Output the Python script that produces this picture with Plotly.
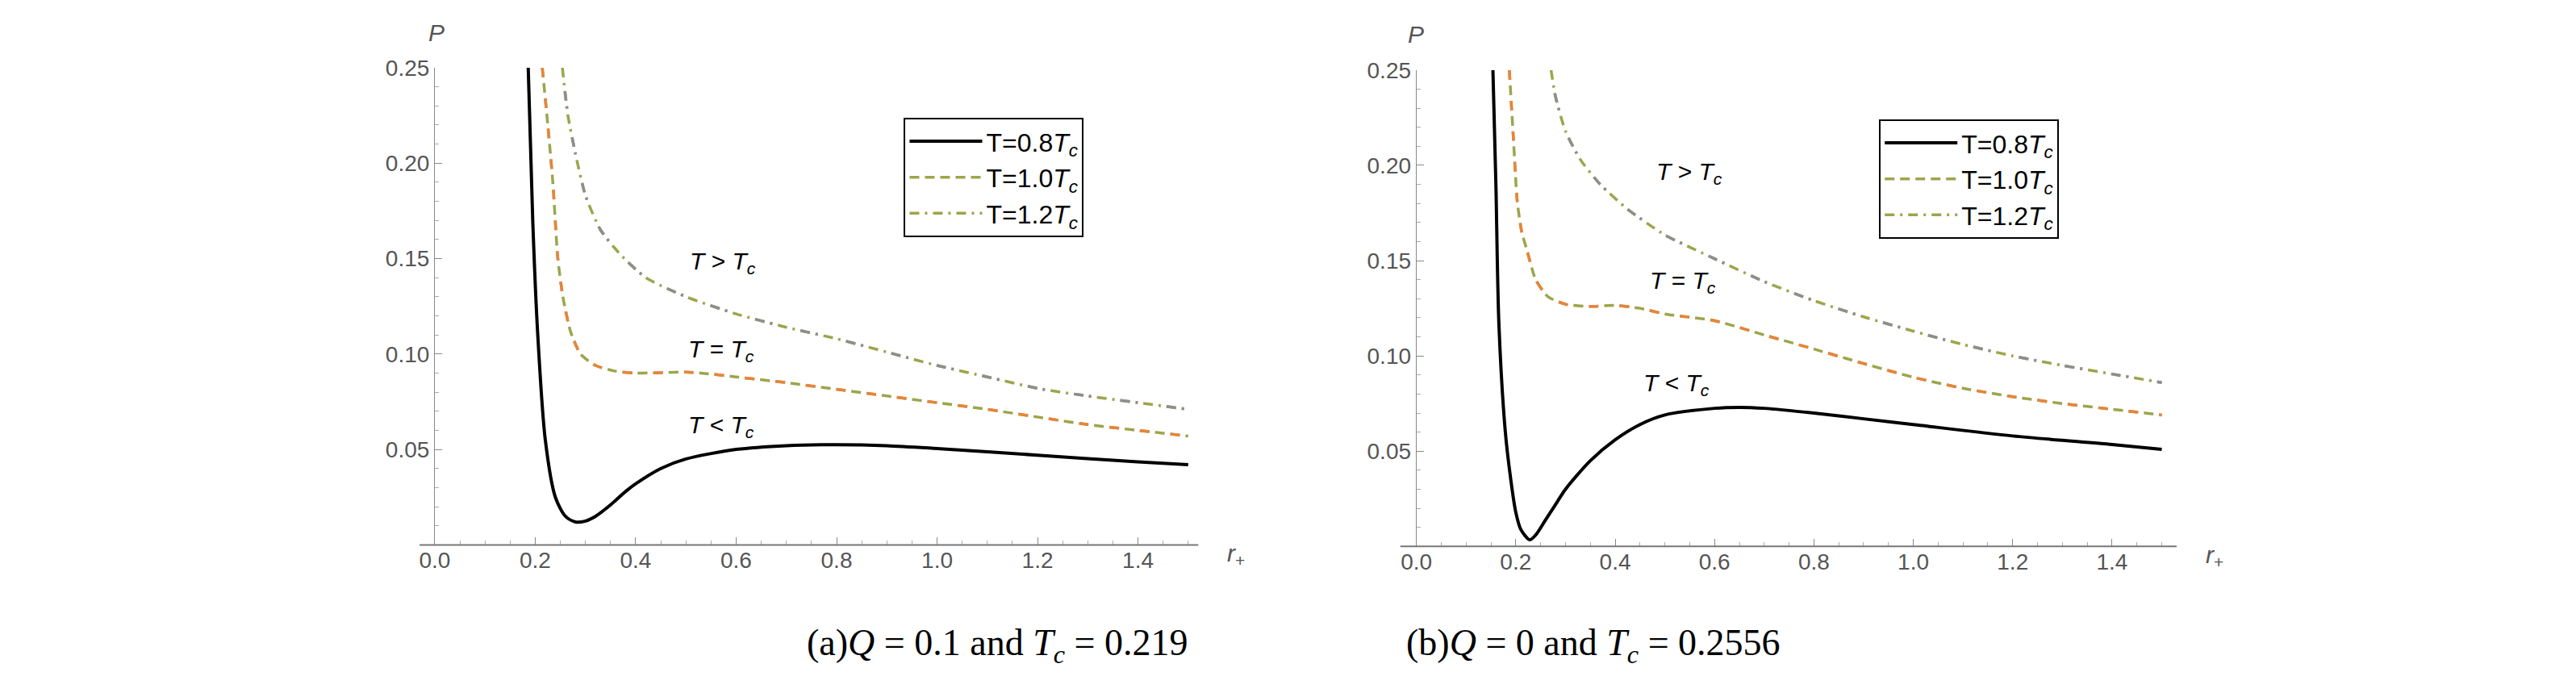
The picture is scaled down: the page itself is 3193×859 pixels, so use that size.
import plotly.graph_objects as go

# panel (a): Q = 0.1
a_low_r = [0.186, 0.195, 0.205, 0.22, 0.24, 0.26, 0.28, 0.30, 0.32, 0.35, 0.38, 0.40, 0.45, 0.5, 0.6, 0.7, 0.8, 0.9, 1.0, 1.2, 1.4, 1.5]
a_low_p = [0.25, 0.17, 0.11, 0.055, 0.025, 0.015, 0.012, 0.0125, 0.015, 0.021, 0.028, 0.032, 0.040, 0.045, 0.050, 0.052, 0.0525, 0.052, 0.0505, 0.047, 0.0435, 0.042]
a_mid_r = [0.214, 0.225, 0.235, 0.245, 0.255, 0.27, 0.29, 0.32, 0.36, 0.4, 0.5, 0.55, 0.6, 0.7, 0.8, 0.9, 1.0, 1.1, 1.2, 1.3, 1.4, 1.5]
a_mid_p = [0.25, 0.22, 0.19, 0.15, 0.13, 0.112, 0.100, 0.094, 0.091, 0.090, 0.0905, 0.0895, 0.088, 0.085, 0.0815, 0.078, 0.0745, 0.071, 0.067, 0.063, 0.060, 0.057]
a_high_r = [0.254, 0.265, 0.28, 0.30, 0.33, 0.37, 0.42, 0.5, 0.6, 0.7, 0.8, 0.9, 1.0, 1.1, 1.2, 1.3, 1.4, 1.5]
a_high_p = [0.25, 0.225, 0.205, 0.183, 0.165, 0.152, 0.14, 0.13, 0.121, 0.114, 0.108, 0.101, 0.094, 0.088, 0.082, 0.078, 0.0745, 0.071]

# panel (b): Q = 0
b_low_r = [0.154, 0.16, 0.166, 0.179, 0.19, 0.2, 0.21, 0.228, 0.24, 0.26, 0.28, 0.3, 0.35, 0.4, 0.45, 0.5, 0.6, 0.65, 0.7, 0.8, 0.9, 1.0, 1.2, 1.4, 1.5]
b_low_p = [0.25, 0.19, 0.117, 0.060, 0.035, 0.018, 0.009, 0.0035, 0.006, 0.014, 0.022, 0.030, 0.045, 0.056, 0.064, 0.069, 0.0725, 0.073, 0.0725, 0.070, 0.067, 0.064, 0.058, 0.0535, 0.051]
b_mid_r = [0.187, 0.195, 0.203, 0.212, 0.222, 0.24, 0.265, 0.302, 0.35, 0.4, 0.45, 0.5, 0.6, 0.7, 0.8, 0.9, 1.0, 1.1, 1.2, 1.3, 1.4, 1.5]
b_mid_p = [0.25, 0.215, 0.181, 0.165, 0.156, 0.140, 0.131, 0.127, 0.126, 0.1265, 0.125, 0.122, 0.1185, 0.111, 0.1036, 0.096, 0.0888, 0.083, 0.0786, 0.075, 0.072, 0.069]
b_high_r = [0.271, 0.28, 0.30, 0.33, 0.37, 0.425, 0.5, 0.6, 0.7, 0.8, 0.9, 1.0, 1.1, 1.2, 1.3, 1.4, 1.5]
b_high_p = [0.25, 0.236, 0.218, 0.203, 0.19, 0.177, 0.1635, 0.151, 0.139, 0.129, 0.1205, 0.113, 0.106, 0.100, 0.095, 0.0905, 0.086]

legend_names = ["T=0.8<i>T<sub>c</sub></i>", "T=1.0<i>T<sub>c</sub></i>", "T=1.2<i>T<sub>c</sub></i>"]
ticks_x = [0.0, 0.2, 0.4, 0.6, 0.8, 1.0, 1.2, 1.4]
ticks_y = [0.05, 0.10, 0.15, 0.20, 0.25]

ORANGE = "#e8843a"
GREEN = "#9ca54c"
GRAY = "#8e8e8e"

fig = go.Figure()

panels = [
    ("x", "y", "legend", (a_low_r, a_low_p), (a_mid_r, a_mid_p), (a_high_r, a_high_p)),
    ("x2", "y2", "legend2", (b_low_r, b_low_p), (b_mid_r, b_mid_p), (b_high_r, b_high_p)),
]
for xa, ya, lg, low, mid, high in panels:
    fig.add_trace(go.Scatter(x=low[0], y=low[1], xaxis=xa, yaxis=ya, mode="lines", name=legend_names[0],
                             line=dict(color="black", width=4, shape="spline", smoothing=0.8), legend=lg))
    fig.add_trace(go.Scatter(x=mid[0], y=mid[1], xaxis=xa, yaxis=ya, mode="lines", name=legend_names[1],
                             line=dict(color=GREEN, width=3.5, dash="12px,7px", shape="spline", smoothing=0.6), legend=lg))
    fig.add_trace(go.Scatter(x=mid[0], y=mid[1], xaxis=xa, yaxis=ya, mode="lines", showlegend=False,
                             line=dict(color=ORANGE, width=3.5, dash="12px,26px", shape="spline", smoothing=0.6)))
    fig.add_trace(go.Scatter(x=high[0], y=high[1], xaxis=xa, yaxis=ya, mode="lines", name=legend_names[2],
                             line=dict(color=GREEN, width=3.5, dash="12px,7px,3px,7px", shape="spline", smoothing=0.6), legend=lg))
    fig.add_trace(go.Scatter(x=high[0], y=high[1], xaxis=xa, yaxis=ya, mode="lines", showlegend=False,
                             line=dict(color=GRAY, width=3.5, dash="0px,29px,12px,7px,3px,7px", shape="spline", smoothing=0.6)))

W, H = 3193, 859
tickfont = dict(family="Liberation Sans", size=28, color="#555555")
ax_common = dict(showgrid=False, zeroline=False, ticks="inside", ticklen=9, tickcolor="#888888", tickfont=tickfont)
minor_x = dict(ticks="inside", ticklen=5, tickcolor="#aaaaaa", dtick=0.05)
minor_y = dict(ticks="inside", ticklen=5, tickcolor="#aaaaaa", dtick=0.01)
leg = dict(xanchor="left", yanchor="top", bordercolor="black", borderwidth=2, bgcolor="white",
           font=dict(family="Liberation Sans", size=32, color="black"), itemwidth=90, tracegroupgap=14)
fig.update_layout(
    width=W, height=H, margin=dict(l=0, r=0, t=0, b=0),
    paper_bgcolor="white", plot_bgcolor="white",
    xaxis=dict(ax_common, domain=[515 / W, 1467 / W], range=[0, 1.52], tickvals=ticks_x, tickformat=".1f",
               showline=False, anchor="y", minor=minor_x),
    yaxis=dict(ax_common, domain=[1 - 664 / H, 1 - 62 / H], range=[0, 0.25], tickvals=ticks_y, tickformat=".2f",
               showline=True, linecolor="#888888", anchor="x", minor=minor_y),
    xaxis2=dict(ax_common, domain=[1739 / W, 2687 / W], range=[0, 1.53], tickvals=ticks_x, tickformat=".1f",
                showline=False, anchor="y2", minor=minor_x),
    yaxis2=dict(ax_common, domain=[1 - 666 / H, 1 - 65 / H], range=[0, 0.25], tickvals=ticks_y, tickformat=".2f",
                showline=True, linecolor="#888888", anchor="x2", minor=minor_y),
    legend=dict(leg, x=1100 / W, y=1 - 125 / H),
    legend2=dict(leg, x=2316 / W, y=1 - 127 / H),
)

# x-axis lines extending slightly past the origin
for x0, x1, yb in [(496, 1467, 664), (1719, 2687, 666)]:
    fig.add_shape(type="line", xref="paper", yref="paper", x0=x0 / W, x1=x1 / W, y0=1 - yb / H, y1=1 - yb / H,
                  line=dict(color="#777777", width=2))

lab = dict(family="Liberation Sans", size=30, color="black")
notes = [
    ("x", "y", 0.574, 0.148, "<i>T</i> > <i>T<sub>c</sub></i>"),
    ("x", "y", 0.57, 0.102, "<i>T</i> = <i>T<sub>c</sub></i>"),
    ("x", "y", 0.57, 0.062, "<i>T</i> < <i>T<sub>c</sub></i>"),
    ("x2", "y2", 0.549, 0.196, "<i>T</i> > <i>T<sub>c</sub></i>"),
    ("x2", "y2", 0.536, 0.139, "<i>T</i> = <i>T<sub>c</sub></i>"),
    ("x2", "y2", 0.524, 0.085, "<i>T</i> < <i>T<sub>c</sub></i>"),
]
for xr, yr, x, y, t in notes:
    fig.add_annotation(xref=xr, yref=yr, x=x, y=y, text=t, showarrow=False, font=lab)

axis_font = dict(family="Liberation Sans", size=30, color="#555555")
for px, py, t in [(517, 18, "<i>P</i>"), (1738, 20, "<i>P</i>"), (1514, 676, "<i>r</i><sub>+</sub>"), (2734, 678, "<i>r</i><sub>+</sub>")]:
    fig.add_annotation(xref="paper", yref="paper", x=px / W, y=1 - py / H, text=t, showarrow=False,
                       font=axis_font, xanchor="center", yanchor="middle")

cap = dict(family="Liberation Serif", size=46, color="black")
fig.add_annotation(xref="paper", yref="paper", x=977 / W, y=1 - 822 / H, showarrow=False, font=cap,
                   text="(a)<i>Q</i> = 0.1 and <i>T<sub>c</sub></i> = 0.219")
fig.add_annotation(xref="paper", yref="paper", x=2195 / W, y=1 - 822 / H, showarrow=False, font=cap,
                   text="(b)<i>Q</i> = 0 and <i>T<sub>c</sub></i> = 0.2556")

fig.write_html("out.html")
